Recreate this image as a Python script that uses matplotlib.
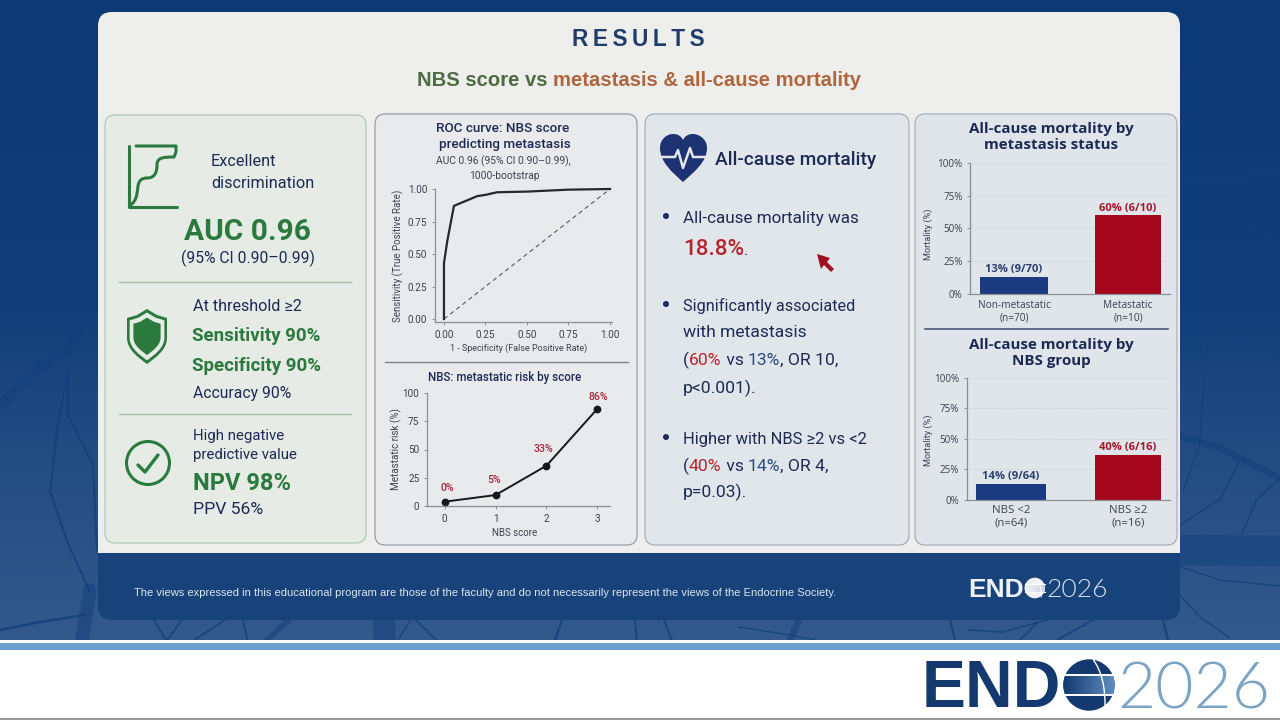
import numpy as np
import matplotlib
matplotlib.use('Agg')
import matplotlib.pyplot as plt
from matplotlib.patches import FancyBboxPatch, Circle, PathPatch, Polygon, Rectangle
from matplotlib.path import Path

# ROC curve
roc_fpr = [0.0, 0.0, 0.02, 0.06, 0.20, 0.25, 0.32, 0.50, 0.75, 1.0]
roc_tpr = [0.0, 0.43, 0.60, 0.87, 0.945, 0.955, 0.975, 0.98, 0.995, 1.0]
roc_ticks = [0.0, 0.25, 0.5, 0.75, 1.0]

# metastatic risk by NBS score
nbs_scores = [0, 1, 2, 3]
nbs_risk = [3.8, 9.7, 35.7, 86]
nbs_labels = ['0%', '5%', '33%', '86%']

# mortality bars
meta_groups = ['Non-metastatic\n(n=70)', 'Metastatic\n(n=10)']
meta_values = [13.4, 60]
meta_labels = ['13% (9/70)', '60% (6/10)']
group_names = ['NBS <2\n(n=64)', 'NBS \u22652\n(n=16)']
group_values = [13, 37]
group_labels = ['14% (9/64)', '40% (6/16)']
pct_ticks = [0, 25, 50, 75, 100]

W, H = 1280, 720
NAVY = '#1d2a55'
GREEN = '#2a7a3e'
RED = '#b3262e'
BLUE = '#2d4a80'
BODY = 'Roboto'

fig = plt.figure(figsize=(12.8, 7.2), dpi=100)
bg = fig.add_axes([0, 0, 1, 1], zorder=0)
bg.axis('off')

# backdrop: dark blue at top, paler lower down
stops = np.interp(np.arange(640), [0, 300, 450, 640], [0, 0.12, 0.55, 1.0])
top_c = np.array([12, 58, 118]) / 255
low_c = np.array([52, 90, 140]) / 255
grad = np.outer(1 - stops, top_c) + np.outer(stops, low_c)
bg.imshow(grad[:, None, :], extent=[0, W, 640, 0], aspect='auto', zorder=0)

# veins in the backdrop (decoration only)
veins = [
    ([(0, 258), (33, 271), (67, 288)], 1.0), ([(0, 271), (20, 283), (37, 309), (50, 334)], 1.2),
    ([(0, 313), (27, 317), (50, 326), (83, 296)], 1.2), ([(0, 406), (33, 372), (67, 351), (97, 296)], 7),
    ([(68, 372), (58, 423), (50, 491), (67, 541), (90, 592)], 1.5), ([(68, 372), (68, 415), (93, 465), (97, 550)], 1.5),
    ([(0, 630), (40, 622), (85, 615)], 1.8), ([(90, 590), (82, 640)], 10),
    ([(1180, 307), (1220, 321), (1253, 334), (1280, 360)], 1.0), ([(1180, 332), (1220, 334), (1257, 347)], 0.9),
    ([(1183, 182), (1280, 173)], 0.8), ([(1180, 436), (1220, 448), (1280, 478)], 5),
    ([(1180, 550), (1280, 551)], 22), ([(1208, 347), (1202, 406), (1200, 444), (1183, 491)], 0.9),
    ([(1240, 461), (1220, 499), (1180, 525)], 1.0), ([(1280, 478), (1257, 499), (1242, 533)], 1.0),
    ([(1180, 567), (1220, 580), (1280, 586)], 1.0), ([(1180, 595), (1200, 617), (1230, 638)], 1.0),
    ([(1235, 215), (1253, 230), (1270, 215)], 0.5), ([(1225, 245), (1253, 230), (1280, 235)], 0.5),
    ([(154, 620), (168, 643)], 1.3), ([(182, 620), (165, 643)], 1.3), ([(225, 620), (190, 643)], 1.3),
    ([(243, 620), (248, 643)], 1.3), ([(289, 620), (263, 643)], 4), ([(384, 620), (385, 643)], 16),
    ([(411, 620), (396, 643)], 1.0), ([(416, 620), (439, 643)], 1.3), ([(562, 620), (554, 643)], 1.6),
    ([(635, 620), (637, 643)], 1.3), ([(664, 620), (673, 643)], 1.3), ([(738, 627), (790, 635), (830, 643)], 1.0),
    ([(799, 620), (789, 643)], 5), ([(1163, 620), (1168, 640)], 1.6), ([(950, 620), (955, 640)], 1.6),
    ([(968, 630), (1003, 632), (1047, 620)], 1.1), ([(1020, 640), (1037, 623)], 1.3), ([(1057, 640), (1093, 620)], 1.3),
]
for pts, lw in veins:
    xs, ys = zip(*pts)
    bg.plot(xs, ys, color='#123f7c', lw=lw, alpha=0.5 if lw >= 4 else 0.8, solid_capstyle='round', zorder=1)

# footer + main panel
bg.add_patch(FancyBboxPatch((98, 530), 1082, 90, boxstyle='round,pad=0,rounding_size=14', fc='#17427a', ec='none', zorder=2))
bg.add_patch(FancyBboxPatch((98, 12), 1082, 530, boxstyle='round,pad=0,rounding_size=14', fc='#eeeeed', ec='none', zorder=3))
bg.add_patch(Rectangle((98, 530), 1082, 23, fc='#eeeeed', ec='none', zorder=3))

# bottom strip
bg.add_patch(Rectangle((0, 640), W, 80, fc='white', ec='none', zorder=2))
bg.add_patch(Rectangle((0, 643), W, 7, fc='#6f9fcf', ec='none', zorder=3))
bg.add_patch(Rectangle((0, 718), W, 2, fc='#999999', ec='none', zorder=3))

# cards
cards = [(105, 115, 366, 543, '#e6ebe6', '#a8c8a8'), (375, 114, 637, 545, '#e9eaec', '#8d93a8'),
         (645, 114, 909, 545, '#e1e6eb', '#a0a8b8'), (915, 114, 1177, 545, '#e0e5ea', '#a0a8b8')]
for x0, y0, x1, y1, fc, ec in cards:
    bg.add_patch(FancyBboxPatch((x0, y0), x1 - x0, y1 - y0, boxstyle='round,pad=0,rounding_size=10',
                                fc=fc, ec=ec, lw=0.8, zorder=4))
bg.set_xlim(0, W)
bg.set_ylim(H, 0)

renderer = fig.canvas.get_renderer()


def txt(x, y, s, size, color=NAVY, ha='left', weight='normal', family=BODY):
    # va=center sits a little high, nudge by font size
    return bg.text(x, y + 0.13 * size, s, fontsize=size, color=color, ha=ha, va='center', fontweight=weight,
                   family=family, zorder=6)


def segs(x, y, parts, size, weight='normal', family=BODY):
    # a line with several colours, placed one piece after another
    for s, c in parts:
        t = txt(x, y, s, size, c, weight=weight, family=family)
        x += t.get_window_extent(renderer).width


def curve(points, **kw):
    codes = [Path.MOVETO] + [Path.LINETO] * (len(points) - 1)
    bg.add_patch(PathPatch(Path(points, codes), fc='none', zorder=6, capstyle='round', joinstyle='round', **kw))


# header
txt(638, 37, 'R\u2009E\u2009S\u2009U\u2009L\u2009T\u2009S', 16.3, '#1f3d68', 'center', 'bold', 'Liberation Sans')
segs(417, 79, [('NBS score vs ', '#4f6b42'), ('metastasis & all-cause mortality', '#b0663c')], 14.6, 'bold', 'Liberation Sans')

# left card
curve([(136, 146), (176, 146), (176, 152), (174, 157)], ec=GREEN, lw=2.2)
curve([(129, 146), (129, 207), (177, 207)], ec=GREEN, lw=2.2)
s_curve = Path([(129, 206), (136, 202), (137, 196), (138, 186), (139, 180), (142, 178), (147, 178),
                (155, 178), (157, 172), (157, 165), (157, 158), (162, 157), (174, 157)],
               [Path.MOVETO] + [Path.CURVE4] * 12)
bg.add_patch(PathPatch(s_curve, fc='none', ec=GREEN, lw=2.2, zorder=6))
txt(211, 160, 'Excellent', 11.7)
txt(211, 182, 'discrimination', 11.7)
txt(247, 229, 'AUC 0.96', 21.5, GREEN, 'center', 'bold')
txt(248, 257, '(95% CI 0.90\u20130.99)', 11.3, ha='center')
for y in (282, 414):
    bg.plot([119, 351], [y, y], color='#a9bfaa', lw=1, zorder=5)


def shield(k, fc):
    cx, cy = 147, 336
    pts = [(0, -27), (10, -21), (20, -18), (20, 2), (20, 14), (8, 22), (0, 28), (-8, 22), (-20, 14), (-20, 2), (-20, -18), (-10, -21), (0, -27)]
    codes = [Path.MOVETO, Path.LINETO, Path.LINETO, Path.LINETO, Path.CURVE4, Path.CURVE4, Path.CURVE4,
             Path.CURVE4, Path.CURVE4, Path.CURVE4, Path.LINETO, Path.LINETO, Path.LINETO]
    verts = [(cx + k * a, cy + k * b) for a, b in pts]
    bg.add_patch(PathPatch(Path(verts, codes), fc=fc, ec='none', zorder=6))


shield(1.0, GREEN)
shield(0.87, '#e6ebe6')
shield(0.68, GREEN)
txt(193, 305, 'At threshold \u22652', 11.6)
txt(192, 334, 'Sensitivity 90%', 13.5, GREEN, weight='bold')
txt(192, 364, 'Specificity 90%', 13.5, GREEN, weight='bold')
txt(193, 392, 'Accuracy 90%', 11.3)
bg.add_patch(Circle((148, 463), 21.5, fc='none', ec=GREEN, lw=2.2, zorder=6))
curve([(138, 465), (145, 472), (158, 455)], ec=GREEN, lw=2.4)
txt(193, 435, 'High negative', 10.8)
txt(193, 454, 'predictive value', 10.8)
txt(193, 481, 'NPV 98%', 17, GREEN, weight='bold')
txt(193, 508, 'PPV 56%', 12.6)

# middle card
heart = Path([(683, 182), (672, 172), (660, 162), (660, 148), (660, 139), (667, 134), (673, 134),
              (678, 134), (681, 136), (683, 140), (685, 136), (688, 134), (693, 134),
              (699, 134), (707, 139), (707, 148), (707, 162), (694, 172), (683, 182)],
             [Path.MOVETO] + [Path.CURVE4] * 18)
bg.add_patch(PathPatch(heart, fc='#1d3270', ec='none', zorder=6))
curve([(661, 157), (675, 157), (678, 150), (683, 168), (690, 148), (693, 157), (706, 157)], ec='#e1e6eb', lw=1.8)
txt(715, 158, 'All-cause mortality', 13.8, weight='medium')
for y in (216, 304, 437):
    bg.add_patch(Circle((666, y), 3, fc=NAVY, ec='none', zorder=6))
txt(683, 217, 'All-cause mortality was', 12.25)
segs(683, 247, [('18.8%', RED)], 16.2, 'medium')
txt(744, 249, '.', 12)
txt(683, 304, 'Significantly associated', 11.7)
txt(683, 331, 'with metastasis', 12.6)
segs(683, 359, [('(', NAVY), ('60%', RED), (' vs ', NAVY), ('13%', BLUE), (', OR 10,', NAVY)], 12.6)
txt(683, 387, 'p<0.001).', 12.6)
txt(683, 438, 'Higher with NBS \u22652 vs <2', 11.9)
segs(683, 465, [('(', NAVY), ('40%', RED), (' vs ', NAVY), ('14%', BLUE), (', OR 4,', NAVY)], 12.6)
txt(683, 491, 'p=0.03).', 12.6)
bg.add_patch(Polygon([(817, 254), (830, 258), (827, 262), (834, 269), (831, 272), (824, 265), (821, 269)],
                     fc='#a01020', ec='none', zorder=7))

# dividers in the chart cards
bg.plot([385, 628], [362, 362], color='#7d8296', lw=1, zorder=5)
bg.plot([925, 1168], [329, 329], color='#4a5a80', lw=1.2, zorder=5)

# footer text
txt(134, 592, 'The views expressed in this educational program are those of the faculty and do not necessarily '
    'represent the views of the Endocrine Society.', 8.03, '#dde5ee', family='Liberation Sans')


def logo(x0, yc, k, end_c, digit_c, band_c):
    txt(x0, yc - 1 * k, 'END', 47.5 * k, end_c, weight='bold', family='Liberation Sans')
    cx = x0 + 167 * k
    r = 25.7 * k
    bg.add_patch(Circle((cx, yc), r, fc=end_c, ec='none', zorder=7))
    clip = Circle((cx, yc), r, transform=bg.transData)
    img = bg.imshow(np.linspace(0, 1, 40)[None, :], extent=[cx - r, cx + r, yc + 9 * k, yc - 9 * k], aspect='auto',
                    cmap=matplotlib.colors.LinearSegmentedColormap.from_list('b', band_c), zorder=7.2)
    img.set_clip_path(clip)
    for dy in (-10 * k, 10 * k):
        bg.plot([cx - r, cx + r], [yc + dy, yc + dy], color='white', lw=max(0.8, 1.4 * k), zorder=7.5)
    arc = Path([(cx + 4 * k, yc - r), (cx + 17 * k, yc - 8 * k), (cx + 16 * k, yc + r - 2 * k)],
               [Path.MOVETO, Path.CURVE3, Path.CURVE3])
    bg.add_patch(PathPatch(arc, fc='none', ec='white', lw=max(0.6, 1.0 * k), zorder=7.5))
    txt(x0 + 195 * k, yc - 1 * k, '2026', 47.5 * k, digit_c, weight=300, family='Lato')


logo(922, 685, 1.0, '#14396f', '#7aa3c4', ['#14396f', '#5f8dc0'])
logo(968, 588, 0.4, '#eef1f5', '#d9e2ec', ['#eef1f5', '#c9d6e4'])
bg.set_xlim(0, W)
bg.set_ylim(H, 0)


def px_axes(l, t, r, b):
    ax = fig.add_axes([l / W, 1 - b / H, (r - l) / W, (b - t) / H], zorder=5)
    ax.patch.set_alpha(0)
    for side in ('top', 'right'):
        ax.spines[side].set_visible(False)
    for side in ('left', 'bottom'):
        ax.spines[side].set_color('#8a8f98')
        ax.spines[side].set_linewidth(0.9)
    ax.tick_params(length=2.5, width=0.7, color='#8a8f98', labelsize=7.2, labelcolor='#3c4250', pad=3)
    return ax


LAB = dict(color='#3c4250', family=BODY)

# ROC
txt(503, 127, 'ROC curve: NBS score', 9.7, ha='center', weight='medium')
txt(505, 143, 'predicting metastasis', 9.7, ha='center', weight='medium')
txt(503, 160, 'AUC 0.96 (95% CI 0.90\u20130.99),', 7.4, '#3c4250', 'center')
txt(504, 175, '1000-bootstrap', 7.4, '#3c4250', 'center')
ax = px_axes(435, 189, 612, 322)
ax.set_xlim(-0.054, 1.012)
ax.set_ylim(-0.023, 1.0)
ax.plot([0, 1], [0, 1], color='#555a64', lw=0.8, ls=(0, (4, 3)))
ax.plot(roc_fpr, roc_tpr, color='#26282e', lw=1.6, clip_on=False)
ax.set_xticks(roc_ticks, [f'{v:.2f}' for v in roc_ticks], family=BODY)
ax.set_yticks(roc_ticks, [f'{v:.2f}' for v in roc_ticks], family=BODY)
ax.set_xlabel('1 - Specificity (False Positive Rate)', labelpad=3, fontsize=6.5, x=0.475, **LAB)
ax.set_ylabel('Sensitivity (True Positive Rate)', labelpad=3, fontsize=7, **LAB)

# risk by score
txt(505, 376, 'NBS: metastatic risk by score', 8.3, ha='center', weight='medium')
ax = px_axes(427, 393, 610, 506)
ax.set_xlim(-0.348, 3.248)
ax.set_ylim(0, 100)
ax.plot(nbs_scores, nbs_risk, color='#17181c', lw=1.4, marker='o', ms=4.6, clip_on=False)
offsets = [(2, 6), (-1, 7.5), (-2, 8.5), (1, 5)]
for x, y, s, off in zip(nbs_scores, nbs_risk, nbs_labels, offsets):
    ax.annotate(s, (x, y), xytext=off, textcoords='offset points', ha='center', va='bottom', fontsize=7.6,
                color='#a8263c', fontweight='medium', family=BODY)
ax.set_xticks(nbs_scores, [str(v) for v in nbs_scores], family=BODY)
ax.set_yticks(pct_ticks, [str(v) for v in pct_ticks], family=BODY)
ax.set_xlabel('NBS score', labelpad=3, fontsize=7, x=0.478, **LAB)
ax.set_ylabel('Metastatic risk (%)', labelpad=0, fontsize=7.1, **LAB)


# mortality bars
def bar_panel(rect, xlim, values, names, labels, widths, tick_size, label_y):
    ax = px_axes(*rect)
    ax.set_xlim(*xlim)
    ax.set_ylim(0, 100)
    ax.yaxis.grid(True, color='#c3c8ce', lw=0.6, ls=(0, (1, 2)))
    ax.set_axisbelow(True)
    ax.bar([0, 1], values, width=widths, color=['#1b3a80', '#a5071c'])
    cols = ['#2b3f70', '#a5162c']
    for x, v, s, c in zip([0, 1], values, labels, cols):
        ax.annotate(s, (x, v), xytext=(0, 1), textcoords='offset points', ha='center', va='bottom',
                    fontsize=8, color=c, fontweight='bold', family='Open Sans')
    ax.set_xticks([0, 1], names, family='Open Sans', fontsize=tick_size, linespacing=1.15)
    ax.tick_params(axis='x', length=0, pad=4)
    ax.set_yticks(pct_ticks, [f'{v}%' for v in pct_ticks], family='Open Sans', fontsize=7.1)
    ax.set_ylabel('Mortality (%)', fontsize=6.6, color='#3c4250', family=BODY)
    ax.yaxis.set_label_coords((933 - rect[0]) / (rect[2] - rect[0]), label_y)
    return ax


txt(1051, 128, 'All-cause mortality by', 10.9, ha='center', weight='bold', family='Open Sans')
txt(1051, 144, 'metastasis status', 10.9, ha='center', weight='bold', family='Open Sans')
bar_panel((970.3, 162.7, 1170, 294.3), (-0.383, 1.368), meta_values, meta_groups, meta_labels, [0.6, 0.576], 7.3, 0.454)
txt(1051, 344, 'All-cause mortality by', 10.9, ha='center', weight='bold', family='Open Sans')
txt(1051, 360, 'NBS group', 10.9, ha='center', weight='bold', family='Open Sans')
bar_panel((966.7, 377.7, 1170, 499.7), (-0.379, 1.361), group_values, group_names, group_labels, [0.594, 0.563], 8.2, 0.485)

fig.savefig('out.png', dpi=100)
